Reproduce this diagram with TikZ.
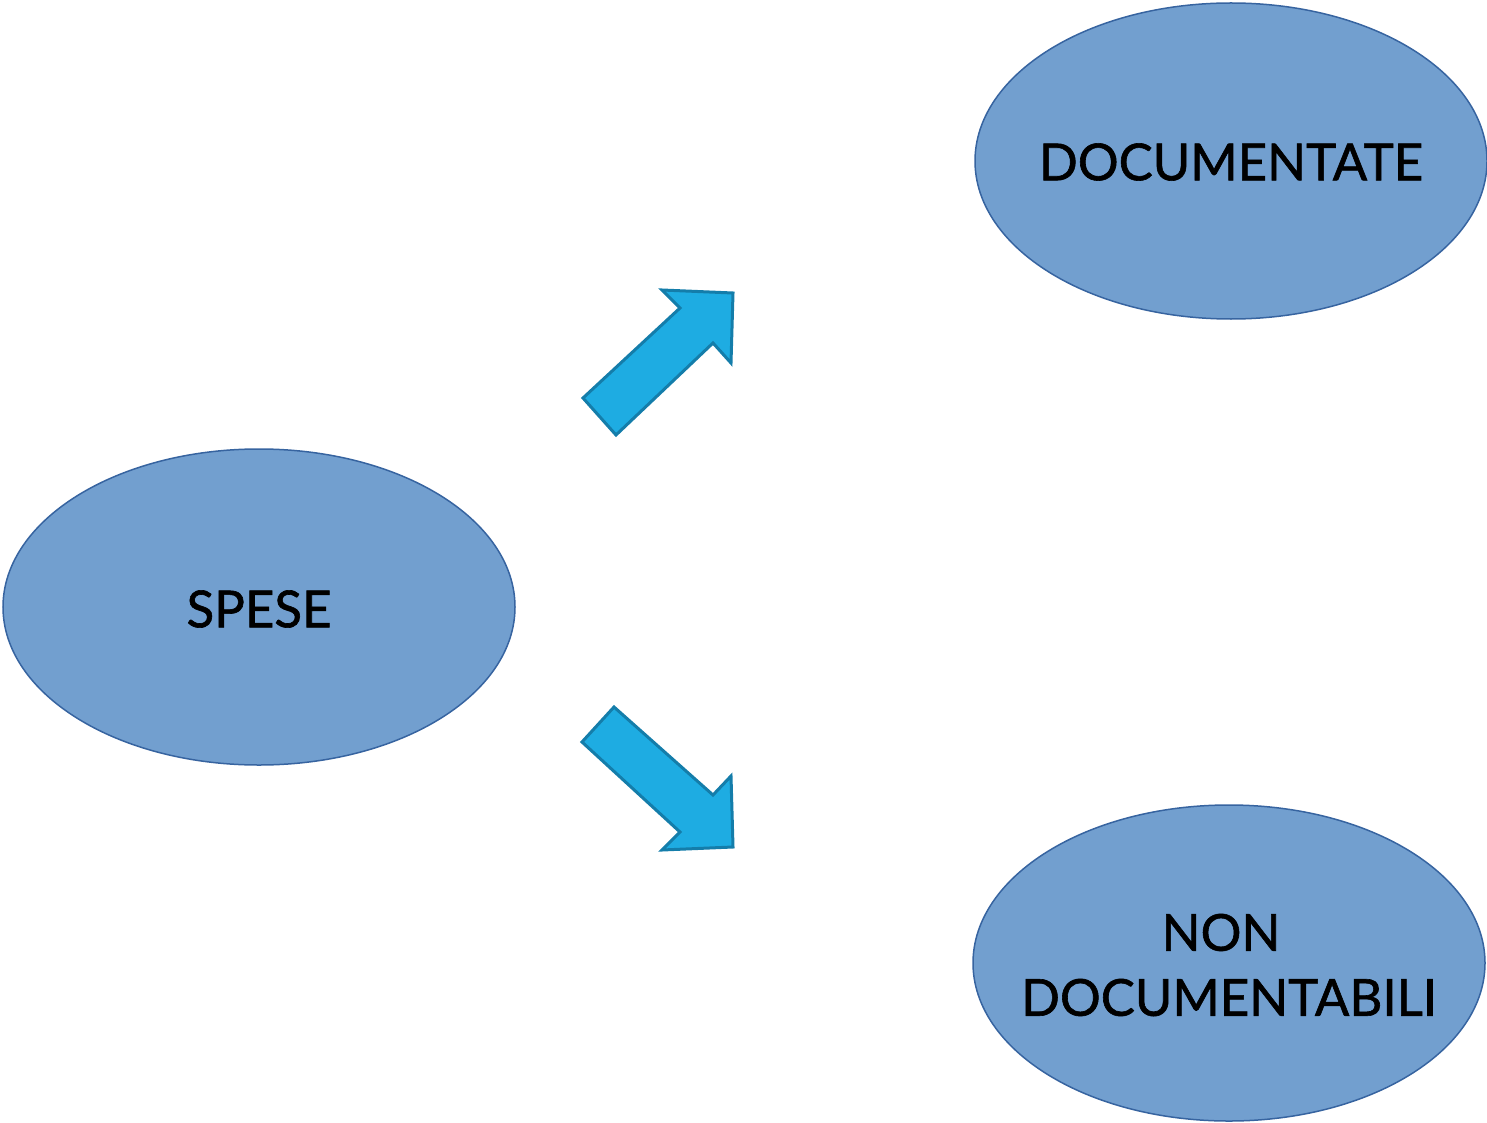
\documentclass[tikz,border=0pt]{standalone}
\usepackage{fontspec}
\setmainfont{Lato}
\newfontfamily\lblfont{Lato}[FakeBold=1.2]
\usetikzlibrary{shapes.geometric}
\definecolor{ellfill}{RGB}{114,159,207}
\definecolor{elldraw}{RGB}{55,100,160}
\definecolor{arrfill}{RGB}{30,172,226}
\definecolor{arrdraw}{RGB}{20,125,170}
\tikzset{
  oval/.style={ellipse, draw=elldraw, fill=ellfill, line width=1.5pt, minimum width=512pt, minimum height=316pt, inner sep=0pt},
  lbl/.style={font=\lblfont\fontsize{51}{65}\selectfont, text=black, align=center, inner sep=0pt},
  blockarrow/.style={draw=arrdraw, fill=arrfill, line width=3pt, line join=miter}
}
\begin{document}
\begin{tikzpicture}[x=1pt,y=-1pt]
\useasboundingbox (0,0) rectangle (1487,1123);
\node[oval] (spese) at (259,607) {};
\node[oval] (doc) at (1231,161) {};
\node[oval] (nondoc) at (1229,963) {};
\node[lbl] (tspese) at (259,609) {SPESE};
\node[lbl] (tdoc) at (1231,162) {DOCUMENTATE};
\node[lbl] (tnondoc) at (1229,965) {NON\kern16pt\\DOCUMENTABILI};
\coordinate (a1) at (583,398);
\coordinate (a2) at (616,435);
\coordinate (a3) at (713,343);
\coordinate (a4) at (731,363);
\coordinate (a5) at (733,293);
\coordinate (a6) at (662,290);
\coordinate (a7) at (680,308);
\draw[blockarrow] (a1) -- (a2) -- (a3) -- (a4) -- (a5) -- (a6) -- (a7) -- cycle;
\coordinate (b1) at (582,742);
\coordinate (b2) at (614,707);
\coordinate (b3) at (713,795);
\coordinate (b4) at (731,776);
\coordinate (b5) at (733,847);
\coordinate (b6) at (662,850);
\coordinate (b7) at (680,832);
\draw[blockarrow] (b1) -- (b2) -- (b3) -- (b4) -- (b5) -- (b6) -- (b7) -- cycle;
\end{tikzpicture}
\end{document}
